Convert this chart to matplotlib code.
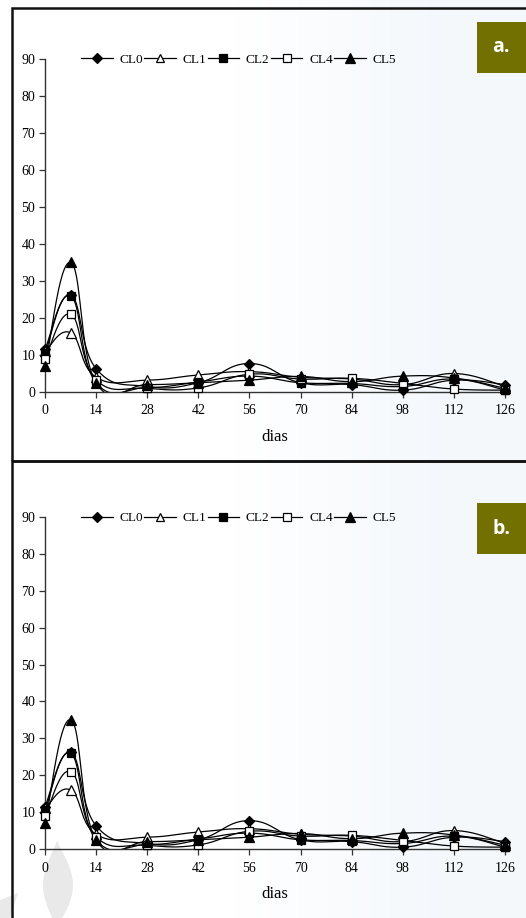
import numpy as np
import matplotlib
matplotlib.use("Agg")
import matplotlib.pyplot as plt
from matplotlib.lines import Line2D
from matplotlib.patches import Rectangle, Polygon

# ---------------- data ----------------
dias = [0, 7, 14, 28, 42, 56, 70, 84, 98, 112, 126]
xticks = [0, 14, 28, 42, 56, 70, 84, 98, 112, 126]
yticks = [0, 10, 20, 30, 40, 50, 60, 70, 80, 90]
series_names = ["CL0", "CL1", "CL2", "CL4", "CL5"]
cl0 = [11.5, 26.2, 6.3, 1.5, 2.5, 7.7, 2.5, 2.0, 0.5, 3.2, 2.0]
cl1 = [11.0, 16.0, 4.0, 3.2, 4.6, 5.5, 4.0, 3.5, 2.0, 5.0, 1.5]
cl2 = [10.5, 26.0, 2.5, 1.2, 2.7, 4.3, 2.5, 2.3, 1.5, 3.5, 0.5]
cl4 = [9.0, 21.0, 3.3, 1.0, 1.1, 4.8, 3.5, 3.7, 2.3, 0.8, 0.5]
cl5 = [7.0, 35.0, 2.5, 2.0, 2.5, 3.2, 4.2, 2.8, 4.3, 3.8, 1.0]
panel_labels = ["a.", "b."]

series = [cl0, cl1, cl2, cl4, cl5]
styles = [
    dict(marker="D", mfc="black", ms=5.5),
    dict(marker="^", mfc="white", ms=6.5),
    dict(marker="s", mfc="black", ms=5.5),
    dict(marker="s", mfc="white", ms=6.0),
    dict(marker="^", mfc="black", ms=7.0),
]


def smooth(xs, ys, n=50, tension=0.22):
    """Excel-like smoothed line (cardinal Bezier spline)."""
    p = np.column_stack([xs, ys]).astype(float)
    out = []
    for i in range(len(p) - 1):
        p0 = p[i - 1] if i > 0 else p[i]
        p1 = p[i]
        p2 = p[i + 1]
        p3 = p[i + 2] if i + 2 < len(p) else p[i + 1]
        c1 = p1 + (p2 - p0) * tension
        c2 = p2 - (p3 - p1) * tension
        t = np.linspace(0, 1, n)[:, None]
        seg = ((1 - t) ** 3) * p1 + 3 * ((1 - t) ** 2) * t * c1 + 3 * (1 - t) * t ** 2 * c2 + t ** 3 * p2
        out.append(seg if i == 0 else seg[1:])
    s = np.vstack(out)
    return s[:, 0], s[:, 1]


W, H = 526, 918
fig = plt.figure(figsize=(W / 100, H / 100), dpi=100)
fig.patch.set_facecolor("white")

# background gradient (white -> very light blue to the right)
bg = fig.add_axes([0, 0, 1, 1], zorder=-10)
grad = np.linspace(0, 1, 256)
grad = np.clip((grad - 0.45) / 0.4, 0, 1)
img = np.zeros((1, 256, 3))
c_left = np.array([1.0, 1.0, 1.0])
c_right = np.array([0.957, 0.973, 0.988])
img[0] = c_left[None, :] * (1 - grad[:, None]) + c_right[None, :] * grad[:, None]
bg.imshow(img, aspect="auto", extent=[0, 1, 0, 1])
bg.set_xlim(0, 1)
bg.set_ylim(0, 1)
bg.set_axis_off()

# faint leaf watermark bottom-left
tt = np.linspace(0, np.pi, 60)
lx = np.concatenate([57 + 16 * np.sin(tt) ** 1.2, (57 - 14 * np.sin(tt) ** 1.2)[::-1]])
ly = np.concatenate([840 + 90 * tt / np.pi, (840 + 90 * tt / np.pi)[::-1]])
bg.add_patch(Polygon(np.column_stack([lx / W, 1 - ly / H]), closed=True,
                     facecolor="#e9e9e9", edgecolor="none", zorder=1))
bg.add_patch(Polygon(np.array([[0, 1 - 900 / H], [18 / W, 1 - 893 / H], [10 / W, 0], [0, 0]]),
                     closed=True, facecolor="#e9e9e9", edgecolor="none", zorder=1))

serif = ["Liberation Serif", "DejaVu Serif"]

# panel frames
for (top, bottom) in [(7.5, 460.5), (460.5, 930)]:
    fig.add_artist(Rectangle((12 / W, 1 - bottom / H), (W + 20 - 12) / W, (bottom - top) / H,
                             transform=fig.transFigure, fill=False, lw=1.8,
                             edgecolor="#111111", zorder=5))

panels = [(59, 392), (517, 849)]
label_boxes = [(22, 73), (503, 554)]

for pi, (ytop, ybot) in enumerate(panels):
    ax = fig.add_axes([45 / W, 1 - ybot / H, (505 - 45) / W, (ybot - ytop) / H])
    ax.set_facecolor("none")
    for s, st in zip(series, styles):
        sx, sy = smooth(dias, s)
        ax.plot(sx, sy, color="black", lw=0.9, zorder=2)
        ax.plot(dias, s, linestyle="none", color="black", mec="black", mew=0.9,
                clip_on=False, zorder=3, **st)
    ax.set_xlim(0, 126)
    ax.set_ylim(0, 90)
    ax.set_xticks(xticks)
    ax.set_yticks(yticks)
    ax.set_xticklabels([str(v) for v in xticks], fontfamily=serif, fontsize=10)
    ax.set_yticklabels([str(v) for v in yticks], fontfamily=serif, fontsize=10)
    ax.tick_params(direction="out", length=4, width=0.9, color="#333333", pad=5)
    ax.tick_params(axis="y", pad=3)
    for sp in ["top", "right"]:
        ax.spines[sp].set_visible(False)
    for sp in ["left", "bottom"]:
        ax.spines[sp].set_linewidth(1.0)
        ax.spines[sp].set_color("#333333")
    ax.set_xlabel("dias", fontfamily=serif, fontsize=12, labelpad=8)

    handles = [Line2D([], [], color="black", lw=0.9, mec="black", mew=0.9, **st) for st in styles]
    leg = ax.legend(handles, series_names, ncol=5, frameon=False,
                    loc="center left", bbox_to_anchor=(81 / W, 1 - (ytop + 1) / H),
                    bbox_transform=fig.transFigure,
                    prop={"family": serif, "size": 9.5},
                    handlelength=2.4, handletextpad=0.5, columnspacing=0.1,
                    markerscale=0.95, borderaxespad=0, borderpad=0)

    # panel label box
    lt, lb = label_boxes[pi]
    fig.add_artist(Rectangle((477 / W, 1 - lb / H), (W - 477) / W, (lb - lt) / H,
                             transform=fig.transFigure, facecolor="#727000",
                             edgecolor="none", zorder=6))
    fig.text(501 / W, 1 - (lt + lb) / 2 / H, panel_labels[pi], color="white",
             fontsize=14, fontweight="bold", fontfamily=["Open Sans", "DejaVu Sans"],
             ha="center", va="center", zorder=7)

fig.savefig("out.png", dpi=100)
